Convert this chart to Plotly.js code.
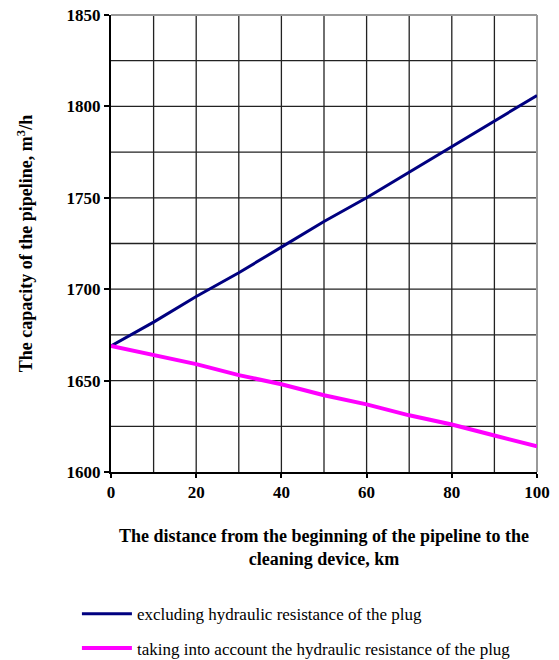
<!DOCTYPE html>
<html>
<head>
<meta charset="utf-8">
<script src="https://cdn.plot.ly/plotly-3.0.1.min.js"></script>
<style>html,body{margin:0;padding:0;background:#fff;}#chart{width:559px;height:660px;}</style>
</head>
<body>
<div id="chart"></div>
<script>
const distanceKm = [0, 10, 20, 30, 40, 50, 60, 70, 80, 90, 100];
const excludingPlug = [1669, 1682, 1696, 1709, 1723, 1737, 1750, 1764, 1778, 1792, 1806];
const takingPlug = [1669, 1664, 1659, 1653, 1648, 1642, 1637, 1631, 1626, 1620, 1614];
const xTickVals = [0, 20, 40, 60, 80, 100];
const xTickText = ['0', '20', '40', '60', '80', '100'];
const yTickVals = [1600, 1650, 1700, 1750, 1800, 1850];
const seriesNames = ['excluding hydraulic resistance of the plug', 'taking into account the hydraulic resistance of the plug'];

const serif = 'Liberation Serif, Times New Roman, serif';
const traces = [
  {x: distanceKm, y: excludingPlug, mode: 'lines', name: seriesNames[0], legendgroup: 'a',
   line: {color: '#000080', width: 3}},
  {x: distanceKm, y: takingPlug, mode: 'lines', name: seriesNames[1], legendgroup: 'b',
   line: {color: '#ff00ff', width: 4}}
];
const layout = {
  width: 559, height: 660,
  margin: {l: 111, r: 22, t: 15, b: 188, autoexpand: false},
  paper_bgcolor: '#fff', plot_bgcolor: '#fff',
  font: {family: serif, color: '#000'},
  showlegend: true,
  legend: {orientation: 'v', x: -0.08, xanchor: 'left', y: -0.272, yanchor: 'top',
           font: {family: serif, size: 17, color: '#000'}, itemwidth: 50,
           traceorder: 'grouped', tracegroupgap: 9, bgcolor: 'rgba(0,0,0,0)'},
  xaxis: {
    range: [0, 100], tickvals: xTickVals, ticktext: xTickText,
    showgrid: false, zeroline: false, automargin: true,
    showline: true, linecolor: '#000', linewidth: 2, mirror: false,
    ticks: 'outside', ticklen: 4, tickwidth: 2, tickcolor: '#000',
    tickfont: {family: serif, size: 17, color: '#000', weight: 'bold'},
    title: {text: '<b>The distance from the beginning of the pipeline to the<br>cleaning device, km</b>',
            font: {family: serif, size: 18, color: '#000'}, standoff: 28}
  },
  yaxis: {
    range: [1600, 1850], tickvals: yTickVals,
    showgrid: false, zeroline: false, automargin: true,
    showline: true, linecolor: '#000', linewidth: 2,
    ticks: 'outside', ticklen: 5, tickwidth: 2, tickcolor: '#000',
    tickfont: {family: serif, size: 17, color: '#000', weight: 'bold'},
    title: {text: '<b>The capacity of the pipeline, m<sup>3</sup>/h</b>',
            font: {family: serif, size: 18, color: '#000'}, standoff: 29}
  },
  shapes: []
};
// grid lines (vertical every 10 km, horizontal every 25)
for (let v = 10; v < 100; v += 10) {
  layout.shapes.push({type: 'line', xref: 'x', yref: 'paper', x0: v, x1: v, y0: 0, y1: 1,
    line: {color: '#222', width: 1.3}, layer: 'below'});
}
for (let v = 1625; v < 1850; v += 25) {
  layout.shapes.push({type: 'line', xref: 'paper', yref: 'y', x0: 0, x1: 1, y0: v, y1: v,
    line: {color: '#222', width: 1.3}, layer: 'below'});
}
// lighter top and right border
layout.shapes.push({type: 'line', xref: 'paper', yref: 'paper', x0: 0, x1: 1, y0: 1, y1: 1,
  line: {color: '#999', width: 2}, layer: 'below'});
layout.shapes.push({type: 'line', xref: 'paper', yref: 'paper', x0: 1, x1: 1, y0: 0, y1: 1,
  line: {color: '#999', width: 2}, layer: 'below'});
Plotly.newPlot('chart', traces, layout, {displayModeBar: false, staticPlot: true});
</script>
</body>
</html>
